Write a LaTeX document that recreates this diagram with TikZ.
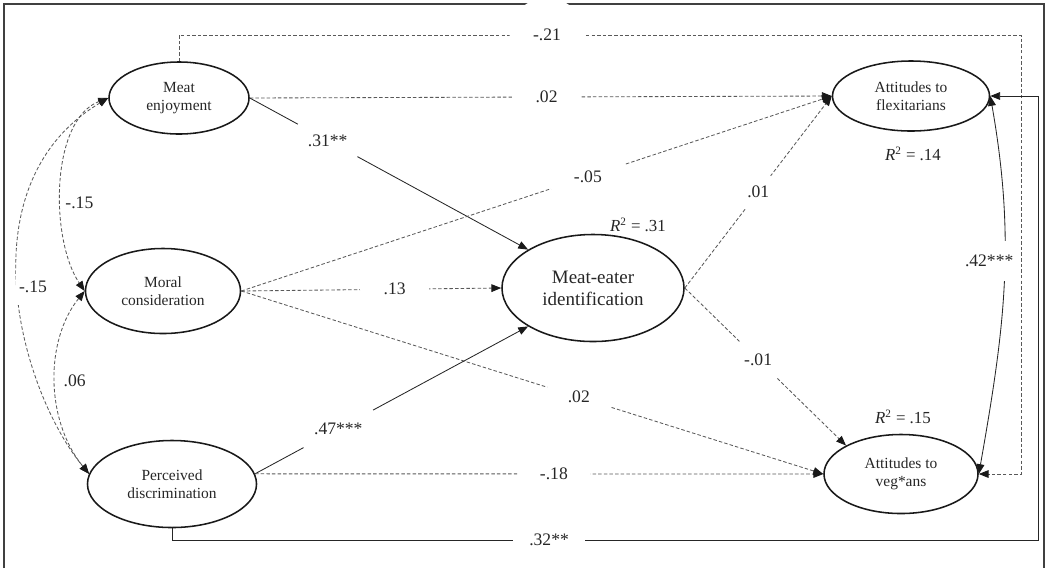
\documentclass[tikz,border=0pt]{standalone}
\usepackage{fontspec}
\setmainfont{Liberation Serif}
\usetikzlibrary{shapes.geometric,arrows.meta}

\tikzset{
  latent/.style={ellipse, draw=black!90, line width=1.1pt, inner sep=0pt, align=center,
    font=\fontsize{11}{12.8}\selectfont, text=black!85},
  sigpath/.style={line width=0.6pt, draw=black!85, -{Triangle[length=7pt,width=5.5pt,color=black!90]}},
  nspath/.style={sigpath, draw=black!65, dash pattern=on 2.5pt off 1.5pt},
  nscov/.style={nspath, {Triangle[length=7pt,width=5.5pt,color=black!90]}-{Triangle[length=7pt,width=5.5pt,color=black!90]}},
  sigcov/.style={sigpath, {Triangle[length=7pt,width=5.5pt,color=black!90]}-{Triangle[length=7pt,width=5.5pt,color=black!90]}},
  coef/.style={circle, fill=white, inner sep=0pt, font=\fontsize{12.5}{15}\selectfont, text=black!85},
  rsq/.style={font=\fontsize{12}{14}\selectfont, text=black!85},
}

\begin{document}
\begin{tikzpicture}[x=0.025cm, y=-0.025cm]

  \newcommand\YTOP{35};
  \newcommand\YBOT{540};
  \newcommand\XIN{1021};
  \newcommand\XOUT{1038};

  \useasboundingbox (0,0) rectangle (1049,568);

  \draw[line width=1.3pt, black!75] (4,568) -- (4,4) -- (1044,4) -- (1044,568);

  \node[latent, minimum width=3.5cm, minimum height=1.8cm] (me) at (179,98) {Meat\\enjoyment};
  \node[latent, minimum width=3.875cm, minimum height=2.125cm] (mc) at (163,291) {Moral\\consideration};
  \node[latent, minimum width=4.225cm, minimum height=2.175cm] (pd) at (172,484) {Perceived\\discrimination};
  \node[latent, minimum width=4.55cm, minimum height=2.675cm,
    font=\fontsize{13.5}{15.5}\selectfont] (mi) at (593,288) {Meat-eater\\identification};
  \node[latent, minimum width=3.925cm, minimum height=1.75cm] (af) at (911,96) {Attitudes to\\flexitarians};
  \node[latent, minimum width=3.85cm, minimum height=1.975cm] (av) at (901,474) {Attitudes to\\veg*ans};

  \node[rsq] (r31) at (638,225) {\textit{R}\textsuperscript{2} = .31};
  \node[rsq] (r14) at (913,154) {\textit{R}\textsuperscript{2} = .14};
  \node[rsq] (r15) at (903,417) {\textit{R}\textsuperscript{2} = .15};

  \coordinate (c21) at (\XIN,\YTOP);
  \coordinate (c32) at (\XOUT,\YBOT);

  \draw[nspath] (me.north) |- node[coef, minimum size=53pt, pos=0.7185] (l21) {-.21} (c21) |- (av.east);
  \draw[nspath] (me.east) -- node[coef, minimum size=49pt, pos=0.51] (l02a) {.02} (af.west);
  \draw[sigpath] (me.east) -- node[coef, minimum size=48pt, pos=0.28] (l31) {.31**} (mi.north west);

  \draw[nspath] (mc.east) -- node[coef, minimum size=55pt, pos=0.587] (l05) {-.05} (af.west);
  \draw[nspath] (mc.east) -- node[coef, minimum size=49pt, pos=0.59] (l13) {.13} (mi.west);
  \draw[nspath] (mc.east) -- node[coef, minimum size=47pt, pos=0.58] (l02b) {.02} (av.west);

  \draw[sigpath] (pd.7) -- node[coef, minimum size=56pt, pos=0.305] (l47) {.47***} (mi.south west);
  \draw[nspath] (pd.7) -- node[coef, minimum size=52pt, pos=0.526] (l18) {-.18} (av.west);
  \draw[sigpath] (pd.south) |- node[coef, minimum size=51pt, pos=0.7177] (l32) {.32**} (c32) |- (af.east);

  \draw[nspath] (mi.east) -- node[coef, minimum size=29pt, pos=0.5] (l01a) {.01} (af.west);
  \draw[nspath] (mi.east) -- node[coef, minimum size=37pt, pos=0.455] (l01b) {-.01} (av.north west);

  \draw[sigcov] (af.east) to[out=-80, in=80]
    node[coef, rectangle, inner xsep=2pt, inner ysep=10pt, pos=0.43, xshift=-11pt] (l42) {.42***} (av.east);

  \draw[nscov] (me.west) .. controls (50,120) and (50,240) ..
    node[coef, fill=none, pos=0.58, right=2pt] (l15a) {-.15} (mc.west);
  \draw[nscov] (mc.west) .. controls (45,340) and (45,420) ..
    node[coef, fill=none, pos=0.5, right=4.5pt] (l06) {.06} (pd.173);
  \draw[nscov] (me.west) .. controls (-37,185) and (20,390) ..
    node[coef, rectangle, inner xsep=2pt, inner ysep=8.5pt, pos=0.5, xshift=10.5pt] (l15b) {-.15} (pd.173);

\end{tikzpicture}
\end{document}
